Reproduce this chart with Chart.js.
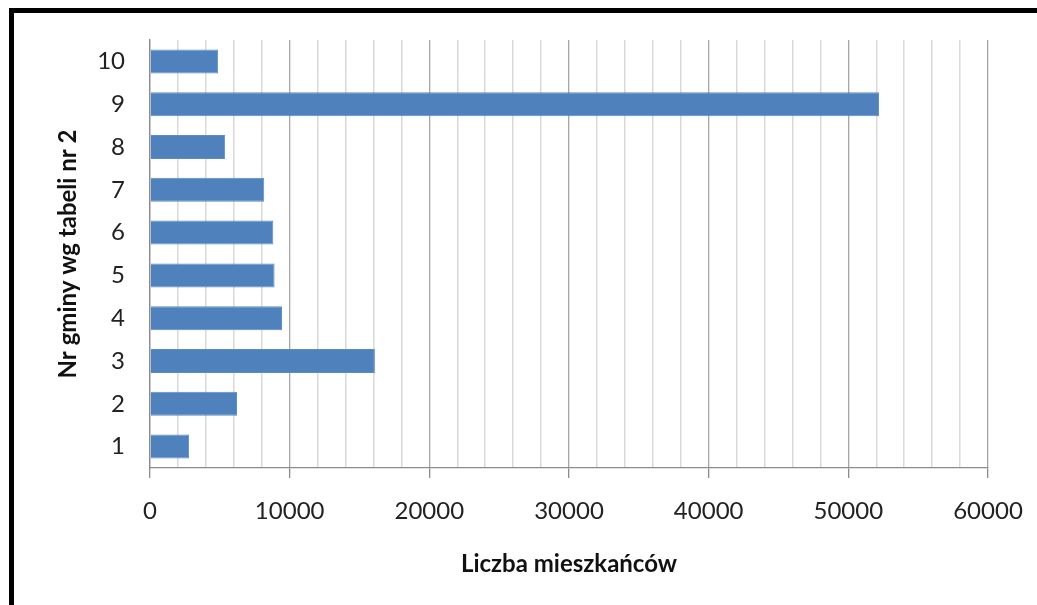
<!DOCTYPE html>
<html>
<head>
<meta charset="utf-8">
<script src="https://cdn.jsdelivr.net/npm/chart.js@4.4.0/dist/chart.umd.min.js"></script>
<style>
  html, body { margin: 0; padding: 0; background: #fff; overflow: hidden; }
  #wrap { position: relative; width: 1037px; height: 605px; }
  #frame { position: absolute; left: 9px; top: 8px; width: 1100px; height: 700px;
           border: 5px solid #000; box-sizing: border-box; pointer-events: none; }
</style>
</head>
<body>
<div id="wrap">
  <canvas id="myChart" width="1037" height="605"></canvas>
  <div id="frame"></div>
</div>
<script>
// Chart data
const categories = ['1', '2', '3', '4', '5', '6', '7', '8', '9', '10'];
const residents = [2800, 6230, 16100, 9450, 8920, 8830, 8180, 5380, 52200, 4880];
const xTicks = [0, 10000, 20000, 30000, 40000, 50000, 60000];

window.onload = function () {
    const ctx = document.getElementById('myChart');
    const isMajor = (v) => xTicks.includes(v);

    new Chart(ctx, {
        type: 'bar',
        data: {
            labels: categories,
            datasets: [{
                data: residents,
                backgroundColor: '#4f81bd',
                borderColor: '#5a8cc6',
                borderWidth: 1,
                categoryPercentage: 1,
                barPercentage: 0.56
            }]
        },
        options: {
            indexAxis: 'y',
            responsive: false,
            animation: false,
            layout: { padding: { left: 0, right: 49, top: 40, bottom: 0 } },
            plugins: {
                legend: { display: false },
                tooltip: { enabled: false }
            },
            scales: {
                x: {
                    min: 0,
                    max: 60000,
                    ticks: {
                        stepSize: 2000,
                        autoSkip: false,
                        maxRotation: 0,
                        padding: 19,
                        color: '#222',
                        font: { family: 'Lato', size: 24 },
                        callback: (v) => isMajor(v) ? String(v) : ''
                    },
                    grid: {
                        color: (c) => isMajor(c.tick.value) ? '#a6a6a6' : '#d9d9d9',
                        lineWidth: (c) => isMajor(c.tick.value) ? 1.3 : 1.5,
                        tickColor: (c) => isMajor(c.tick.value) ? '#8c8c8c' : 'rgba(0,0,0,0)',
                        tickLength: 10
                    },
                    border: { display: true, color: '#8c8c8c', width: 1.3 },
                    title: {
                        display: true,
                        text: 'Liczba mieszkańców',
                        color: '#111',
                        font: { family: 'Lato', size: 24, weight: 'bold' },
                        padding: { top: 0, bottom: 26 }
                    },
                    afterFit: (s) => {
                        s.height = 137;
                        s.paddingLeft = 0;
                        s.paddingRight = 0;
                    }
                },
                y: {
                    reverse: true,
                    ticks: {
                        padding: 25,
                        color: '#222',
                        font: { family: 'Lato', size: 24 }
                    },
                    grid: { color: 'rgba(0,0,0,0)', drawTicks: false },
                    border: { display: true, color: '#8c8c8c', width: 1.3 },
                    title: {
                        display: true,
                        text: 'Nr gminy wg tabeli nr 2',
                        color: '#111',
                        font: { family: 'Lato', size: 24, weight: 'bold' },
                        padding: { top: 54, bottom: 0 }
                    },
                    afterFit: (s) => {
                        s.width = 150;
                        s.paddingTop = 0;
                        s.paddingBottom = 0;
                    }
                }
            }
        }
    });
}
</script>
</body>
</html>
